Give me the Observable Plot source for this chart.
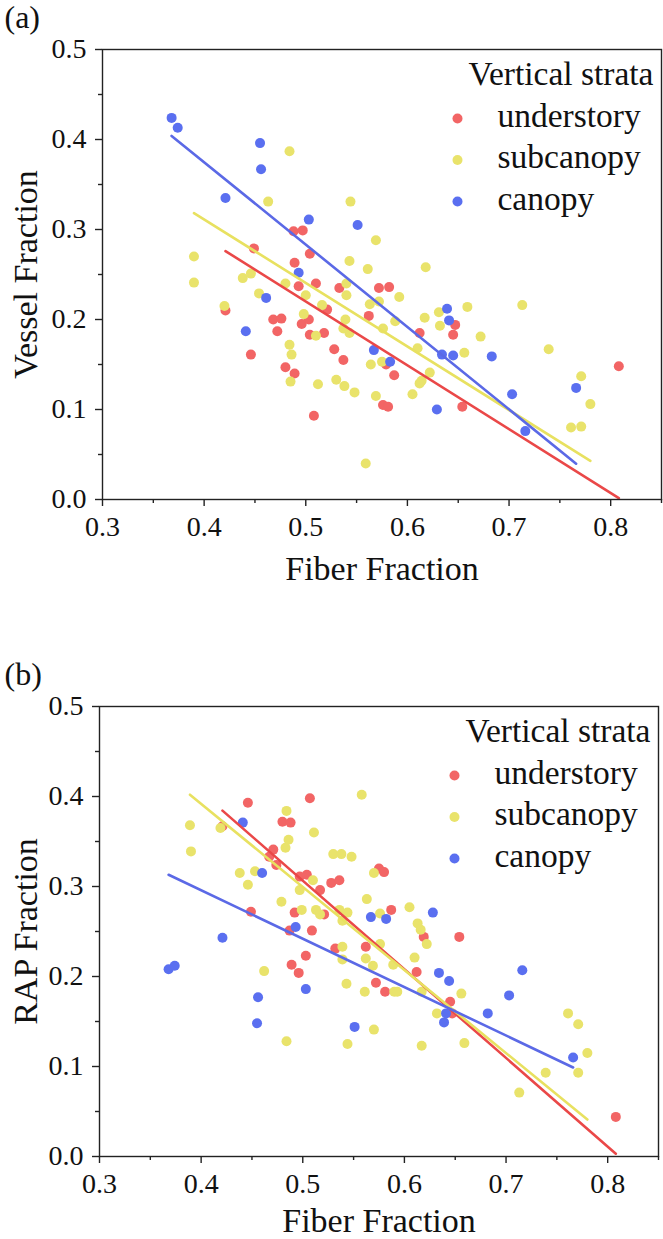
<!DOCTYPE html>
<html>
<head>
<meta charset="utf-8">
<script src="https://cdn.jsdelivr.net/npm/d3@7"></script>
<script src="https://cdn.jsdelivr.net/npm/@observablehq/plot@0.6"></script>
<style>
  html, body { margin: 0; padding: 0; background: #fff; }
  #fig { width: 663px; height: 1239px; }
  #fig svg { display: block; }
</style>
</head>
<body>
<div id="fig"></div>
<script>
// Vertical strata and their colours
const strata = ["understory", "subcanopy", "canopy"];
const dotColors = ["#f26565", "#e9e36b", "#5a6ff0"];
const lineColors = ["#ea4848", "#e8e160", "#5b69e6"];

// Panel (a): fiber fraction vs vessel fraction
const aUnderFiber  = [0.421,0.446,0.449,0.468,0.472,0.476,0.480,0.488,0.489,0.489,0.493,0.496,0.497,0.503,0.504,0.504,0.508,0.510,0.518,0.521,0.528,0.533,0.537,0.562,0.572,0.576,0.579,0.581,0.582,0.587,0.612,0.645,0.647,0.654,0.808];
const aUnderVessel = [0.210,0.161,0.279,0.200,0.187,0.201,0.147,0.298,0.263,0.140,0.237,0.195,0.299,0.200,0.273,0.183,0.093,0.240,0.185,0.211,0.167,0.235,0.155,0.204,0.235,0.105,0.150,0.103,0.236,0.138,0.185,0.183,0.194,0.103,0.148];
const aSubFiber    = [0.484,0.463,0.544,0.569,0.390,0.390,0.543,0.561,0.438,0.446,0.480,0.454,0.500,0.540,0.540,0.516,0.563,0.420,0.498,0.539,0.537,0.543,0.510,0.484,0.486,0.564,0.485,0.512,0.530,0.538,0.548,0.569,0.559,0.572,0.576,0.588,0.592,0.575,0.617,0.631,0.632,0.659,0.713,0.618,0.610,0.672,0.656,0.739,0.622,0.614,0.612,0.605,0.771,0.780,0.761,0.771];
const aSubVessel   = [0.387,0.331,0.331,0.288,0.270,0.241,0.265,0.256,0.246,0.251,0.240,0.229,0.227,0.240,0.227,0.216,0.217,0.215,0.206,0.200,0.190,0.185,0.182,0.172,0.161,0.150,0.131,0.128,0.133,0.126,0.119,0.115,0.040,0.220,0.190,0.198,0.225,0.153,0.202,0.208,0.193,0.214,0.216,0.258,0.168,0.181,0.163,0.167,0.141,0.132,0.129,0.117,0.137,0.106,0.080,0.081];
const aCanFiber    = [0.368,0.374,0.421,0.441,0.455,0.456,0.461,0.493,0.503,0.551,0.567,0.583,0.629,0.634,0.639,0.641,0.645,0.683,0.703,0.716,0.766];
const aCanVessel   = [0.424,0.413,0.335,0.187,0.396,0.367,0.224,0.252,0.311,0.305,0.166,0.153,0.100,0.161,0.212,0.199,0.160,0.159,0.117,0.076,0.124];

// Panel (b): fiber fraction vs RAP fraction
const bUnderFiber  = [0.421,0.446,0.449,0.467,0.471,0.474,0.480,0.487,0.488,0.489,0.492,0.496,0.497,0.503,0.504,0.507,0.509,0.517,0.521,0.528,0.532,0.536,0.562,0.572,0.575,0.580,0.581,0.587,0.612,0.619,0.645,0.647,0.654,0.808];
const bUnderRap    = [0.367,0.393,0.272,0.333,0.341,0.324,0.372,0.251,0.371,0.213,0.271,0.204,0.311,0.223,0.313,0.398,0.251,0.296,0.269,0.304,0.231,0.307,0.233,0.193,0.320,0.316,0.183,0.274,0.205,0.244,0.172,0.159,0.244,0.044];
const bSubFiber    = [0.389,0.390,0.419,0.558,0.484,0.511,0.486,0.483,0.530,0.538,0.548,0.570,0.438,0.453,0.446,0.510,0.497,0.479,0.563,0.499,0.513,0.517,0.536,0.544,0.539,0.462,0.539,0.539,0.562,0.569,0.543,0.561,0.570,0.484,0.544,0.576,0.605,0.613,0.616,0.622,0.576,0.589,0.610,0.590,0.593,0.617,0.617,0.656,0.632,0.659,0.713,0.739,0.761,0.771,0.780,0.771];
const bSubRap      = [0.368,0.339,0.365,0.402,0.384,0.360,0.352,0.343,0.336,0.336,0.333,0.315,0.315,0.317,0.302,0.307,0.296,0.283,0.286,0.274,0.274,0.269,0.274,0.271,0.262,0.206,0.233,0.219,0.220,0.212,0.192,0.183,0.141,0.128,0.125,0.270,0.277,0.259,0.252,0.236,0.236,0.213,0.221,0.183,0.183,0.183,0.123,0.181,0.159,0.126,0.071,0.093,0.159,0.147,0.115,0.093];
const bCanFiber    = [0.368,0.374,0.421,0.441,0.455,0.456,0.460,0.493,0.503,0.551,0.567,0.582,0.628,0.634,0.639,0.641,0.644,0.682,0.703,0.716,0.766];
const bCanRap      = [0.208,0.212,0.243,0.371,0.148,0.177,0.315,0.255,0.186,0.144,0.266,0.264,0.271,0.204,0.149,0.159,0.195,0.159,0.179,0.207,0.110];

// Fitted lines per stratum (intercept + slope * fiber)
const vesselIntercept = [0.5745, 0.5936, 0.7407];
const vesselSlope     = [-0.709, -0.706, -0.915];
const rapIntercept    = [0.799, 0.761, 0.511];
const rapSlope        = [-0.985, -0.923, -0.538];

// Axis ticks
const xMajor = [0.3, 0.4, 0.5, 0.6, 0.7, 0.8];
const xMinor = [0.35, 0.45, 0.55, 0.65, 0.75, 0.85];
const yMajor = [0, 0.1, 0.2, 0.3, 0.4, 0.5];
const yMinor = [0.05, 0.15, 0.25, 0.35, 0.45];

const serif = "'Liberation Serif', 'Times New Roman', serif";
const fmt = d3.format(".1f");

function panel({tag, yTitle, fibers, values, intercepts, slopes, height, marginTop, marginBottom, marginLeft, marginRight, titleDy}) {
  const marks = [];

  // points, drawn understory first so canopy sits on top
  strata.forEach((s, i) => {
    const rows = fibers[i].map((f, j) => ({stratum: s, fiber: f, value: values[i][j]}));
    marks.push(Plot.dot(rows, {x: "fiber", y: "value", r: 5, fill: dotColors[i], stroke: "none"}));
  });

  // fitted lines spanning each stratum's fiber range
  strata.forEach((s, i) => {
    const ends = d3.extent(fibers[i]).map(f => ({fiber: f, value: intercepts[i] + slopes[i] * f}));
    marks.push(Plot.line(ends, {x: "fiber", y: "value", stroke: lineColors[i], strokeWidth: 2.6}));
  });

  // axes with major and minor ticks
  marks.push(
    Plot.frame({stroke: "#222", strokeWidth: 1.4}),
    Plot.axisY(yMajor, {anchor: "left", tickSize: 7, tickPadding: 9, tickFormat: fmt, fontSize: 28, label: null, stroke: "#222", strokeWidth: 1.4}),
    Plot.axisY(yMinor, {anchor: "left", tickSize: 4, tickFormat: () => "", label: null, stroke: "#222", strokeWidth: 1.4}),
    Plot.axisX(xMajor, {anchor: "bottom", tickSize: 7, tickPadding: 10, tickFormat: fmt, fontSize: 28, label: null, stroke: "#222", strokeWidth: 1.4}),
    Plot.axisX(xMinor, {anchor: "bottom", tickSize: 4, tickFormat: () => "", label: null, stroke: "#222", strokeWidth: 1.4})
  );

  // axis titles and panel tag
  marks.push(
    Plot.text([yTitle], {text: d => d, frameAnchor: "left", dx: 36 - marginLeft, rotate: -90, textAnchor: "middle", lineAnchor: "bottom", fontSize: 34, fill: "#111"}),
    Plot.text(["Fiber Fraction"], {text: d => d, frameAnchor: "bottom", dy: titleDy, textAnchor: "middle", lineAnchor: "bottom", fontSize: 34, fill: "#111"}),
    Plot.text([tag], {text: d => d, frameAnchor: "top-left", dx: 4 - marginLeft, dy: -22, textAnchor: "start", lineAnchor: "bottom", fontSize: 32, fill: "#111"})
  );

  // legend
  marks.push(Plot.text(["Vertical strata"], {text: d => d, frameAnchor: "top-left", dx: 551, dy: 35, textAnchor: "end", lineAnchor: "bottom", fontSize: 33.5, fill: "#111"}));
  strata.forEach((s, i) => {
    const rowY = 69 + 41.5 * i;
    marks.push(
      Plot.dot([s], {frameAnchor: "top-left", dx: 355, dy: rowY, r: 5, fill: dotColors[i], stroke: "none"}),
      Plot.text([s], {text: d => d, frameAnchor: "top-left", dx: 395, dy: rowY + 8, textAnchor: "start", lineAnchor: "bottom", fontSize: 33.5, fill: "#111"})
    );
  });

  return Plot.plot({
    width: 663,
    height,
    marginTop, marginBottom, marginLeft, marginRight,
    x: {domain: [0.3, 0.85], label: null},
    y: {domain: [0, 0.5], label: null},
    style: {fontFamily: serif, background: "#fff", color: "#111", overflow: "visible"},
    marks
  });
}

const fig = document.getElementById("fig");
fig.append(panel({
  tag: "(a)", yTitle: "Vessel Fraction",
  fibers: [aUnderFiber, aSubFiber, aCanFiber],
  values: [aUnderVessel, aSubVessel, aCanVessel],
  intercepts: vesselIntercept, slopes: vesselSlope,
  height: 620, marginTop: 49, marginBottom: 121, marginLeft: 102, marginRight: 2, titleDy: 80
}));
fig.append(panel({
  tag: "(b)", yTitle: "RAP Fraction",
  fibers: [bUnderFiber, bSubFiber, bCanFiber],
  values: [bUnderRap, bSubRap, bCanRap],
  intercepts: rapIntercept, slopes: rapSlope,
  height: 619, marginTop: 86, marginBottom: 83, marginLeft: 99, marginRight: 5, titleDy: 75
}));
</script>
</body>
</html>
